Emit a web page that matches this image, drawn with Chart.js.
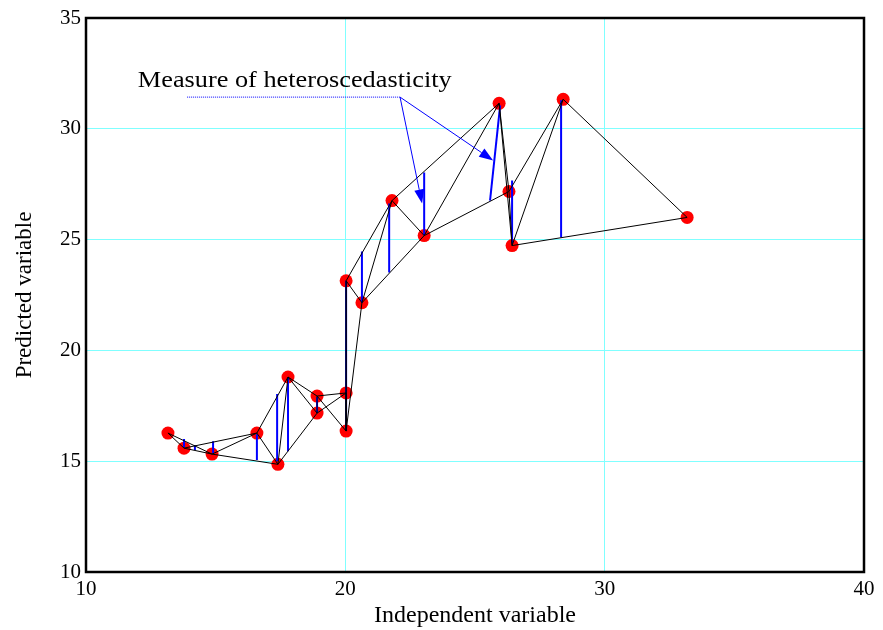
<!DOCTYPE html>
<html>
<head>
<meta charset="utf-8">
<script src="https://cdn.jsdelivr.net/npm/chart.js@4.4.1/dist/chart.umd.min.js"></script>
<style>
  html, body { margin: 0; padding: 0; background: #fff; }
</style>
</head>
<body>
<canvas id="chart" width="883" height="630"></canvas>
<script>
"use strict";

// observed points, sorted by x
const xValues = [13.16, 13.78, 14.86, 16.59, 17.40, 17.79, 18.91, 18.91, 20.03, 20.03,
                 20.03, 20.64, 21.80, 23.04, 25.93, 26.31, 26.43, 28.40, 33.18];
const yValues = [16.27, 15.59, 15.32, 16.27, 14.86, 18.80, 17.17, 17.94, 18.08, 16.36,
                 23.14, 22.15, 26.76, 25.18, 31.15, 27.17, 24.73, 31.33, 26.00];

// blue "heteroscedasticity" segments
const blueXTop    = [13.78, 14.20, 14.90, 16.59, 17.37, 17.79, 18.91, 20.03, 20.03, 20.64, 21.69, 23.04, 25.97, 26.43, 28.32];
const blueXBottom = [13.78, 14.20, 14.90, 16.59, 17.37, 17.79, 18.91, 20.03, 20.03, 20.64, 21.69, 23.04, 25.58, 26.43, 28.32];
const blueYTop    = [16.00, 15.72, 15.90, 16.22, 18.03, 18.76, 17.90, 18.08, 23.14, 24.46, 26.63, 28.03, 31.06, 27.67, 31.29];
const blueYBottom = [15.63, 15.50, 15.36, 15.05, 15.00, 15.45, 17.17, 16.36, 18.08, 22.15, 23.51, 25.18, 26.76, 24.82, 25.09];

const xTicks = [10, 20, 30, 40];
const yTicks = [10, 15, 20, 25, 30, 35];

// annotation anchors (data units)
const noteText = "Measure of heteroscedasticity";
const noteAt = { x: 12.0, y: 31.88 };
const noteRight = 24.1;
const leaderStart = { x: 13.9, y: 31.43 };
const leaderKnee = { x: 22.11, y: 31.43 };
const arrowTips = [{ x: 22.96, y: 26.63 }, { x: 25.70, y: 28.57 }];

const serif = "'Liberation Serif', 'Times New Roman', serif";
const cyan = "rgb(128,255,255)";

const points = xValues.map((x, i) => ({ x: x, y: yValues[i] }));

// black triangles: each point joined to its next and next-but-one neighbour
const edges = [];
for (let i = 0; i < points.length - 1; i++) {
  edges.push([points[i], points[i + 1]]);
  if (i + 2 < points.length) edges.push([points[i], points[i + 2]]);
}

const datasets = [
  {
    data: points,
    pointRadius: 6.5,
    pointBackgroundColor: "#ff0000",
    pointBorderWidth: 0,
    showLine: false,
    order: 3,
  },
];

blueXTop.forEach((x, i) => {
  datasets.push({
    data: [{ x: x, y: blueYTop[i] }, { x: blueXBottom[i], y: blueYBottom[i] }],
    showLine: true,
    borderColor: "#0000ff",
    borderWidth: 2,
    pointRadius: 0,
    order: 2,
  });
});

edges.forEach((e) => {
  datasets.push({
    data: e,
    showLine: true,
    borderColor: "#000",
    borderWidth: 1,
    pointRadius: 0,
    order: 1,
  });
});

function arrow(ctx, x0, y0, x1, y1) {
  const a = Math.atan2(y1 - y0, x1 - x0);
  const len = 14, hw = 5;
  ctx.beginPath();
  ctx.moveTo(x0, y0);
  ctx.lineTo(x1 - len * Math.cos(a), y1 - len * Math.sin(a));
  ctx.stroke();
  ctx.beginPath();
  ctx.moveTo(x1, y1);
  ctx.lineTo(x1 - len * Math.cos(a) + hw * Math.sin(a), y1 - len * Math.sin(a) - hw * Math.cos(a));
  ctx.lineTo(x1 - len * Math.cos(a) - hw * Math.sin(a), y1 - len * Math.sin(a) + hw * Math.cos(a));
  ctx.closePath();
  ctx.fill();
}

const decor = {
  id: "decor",
  afterDatasetsDraw(chart) {
    const { ctx, chartArea: a, scales } = chart;
    const px = (v) => scales.x.getPixelForValue(v);
    const py = (v) => scales.y.getPixelForValue(v);
    ctx.save();
    // frame
    ctx.strokeStyle = "#000";
    ctx.lineWidth = 2.5;
    ctx.strokeRect(a.left, a.top, a.right - a.left, a.bottom - a.top);

    // annotation, stretched sideways like the original
    ctx.fillStyle = "#000";
    ctx.font = "23px " + serif;
    ctx.textBaseline = "alphabetic";
    const w = ctx.measureText(noteText).width;
    const sx = (px(noteRight) - px(noteAt.x)) / w;
    ctx.save();
    ctx.translate(px(noteAt.x), py(noteAt.y));
    ctx.scale(sx, 1);
    ctx.fillText(noteText, 0, 0);
    ctx.restore();

    ctx.strokeStyle = "#0000ff";
    ctx.fillStyle = "#0000ff";
    ctx.lineWidth = 1;
    ctx.setLineDash([1, 1]);
    ctx.beginPath();
    ctx.moveTo(px(leaderStart.x), py(leaderStart.y));
    ctx.lineTo(px(leaderKnee.x), py(leaderKnee.y));
    ctx.stroke();
    ctx.setLineDash([]);
    arrowTips.forEach((t) => {
      arrow(ctx, px(leaderKnee.x), py(leaderKnee.y), px(t.x), py(t.y));
    });
    ctx.restore();
  },
};

new Chart(document.getElementById("chart"), {
  type: "scatter",
  data: { datasets: datasets },
  options: {
    responsive: false,
    animation: false,
    layout: { padding: { top: 18, right: 19, left: 0, bottom: 0 } },
    plugins: { legend: { display: false }, tooltip: { enabled: false } },
    scales: {
      x: {
        type: "linear",
        min: 10,
        max: 40,
        afterBuildTicks: (s) => { s.ticks = xTicks.map((v) => ({ value: v })); },
        afterFit: (s) => { s.height = 58; },
        ticks: { color: "#000", font: { family: serif, size: 21 }, padding: 5, maxRotation: 0 },
        grid: { color: cyan, drawTicks: false },
        border: { display: false },
        title: { display: true, text: "Independent variable", color: "#000", font: { family: serif, size: 24 }, padding: 0 },
      },
      y: {
        type: "linear",
        min: 10,
        max: 35,
        afterBuildTicks: (s) => { s.ticks = yTicks.map((v) => ({ value: v })); },
        afterFit: (s) => { s.width = 86; },
        ticks: { color: "#000", font: { family: serif, size: 21 }, padding: 5 },
        grid: { color: cyan, drawTicks: false },
        border: { display: false },
        title: { display: true, text: "Predicted variable", color: "#000", font: { family: serif, size: 23 }, padding: { top: 11, bottom: 0 } },
      },
    },
  },
  plugins: [decor],
});
</script>
</body>
</html>
